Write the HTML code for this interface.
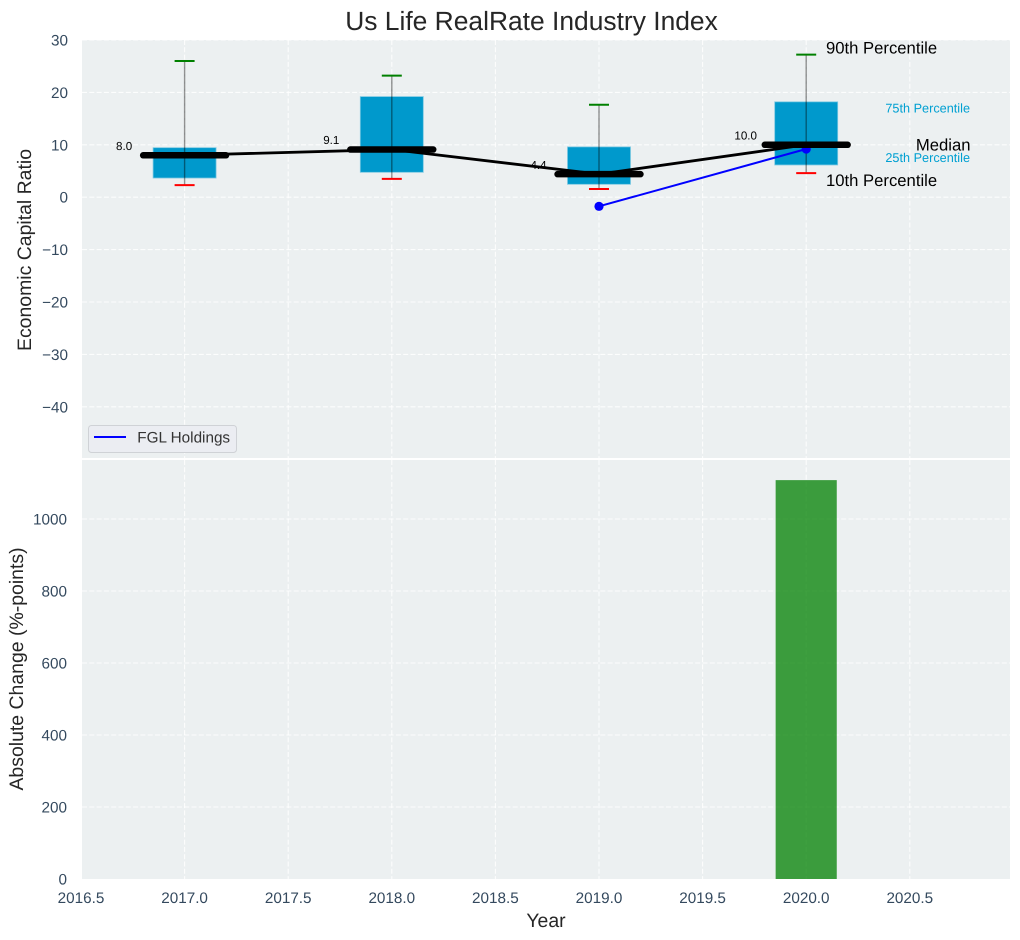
<!DOCTYPE html>
<html lang="en">
<head>
<meta charset="utf-8">
<title>Us Life RealRate Industry Index</title>
<style>
html,body{margin:0;padding:0;background:#fff;width:1020px;height:940px;overflow:hidden}
svg{display:block;font-family:"Liberation Sans",Arial,sans-serif;text-rendering:geometricPrecision}
</style>
</head>
<body>
<svg id="chart" xmlns="http://www.w3.org/2000/svg" width="1020" height="940" viewBox="0 0 1020 940"></svg>
<script>
const years = [2017, 2018, 2019, 2020];
const p90 = [26.0, 23.2, 17.65, 27.2];
const p75 = [9.45, 19.2, 9.6, 18.2];
const medians = [8.0, 9.1, 4.4, 10.0];
const p25 = [3.66, 4.75, 2.46, 6.15];
const p10 = [2.3, 3.5, 1.56, 4.6];
const medianLabels = ["8.0", "9.1", "4.4", "10.0"];
const companyName = "FGL Holdings";
const companyYears = [2019, 2020];
const companyValues = [-1.74, 9.2];
const changeYears = [2020];
const changeValues = [1108];
const xTicks = [2016.5, 2017.0, 2017.5, 2018.0, 2018.5, 2019.0, 2019.5, 2020.0, 2020.5];
const xTickLabels = ["2016.5", "2017.0", "2017.5", "2018.0", "2018.5", "2019.0", "2019.5", "2020.0", "2020.5"];
const topTicks = [30, 20, 10, 0, -10, -20, -30, -40];
const topTickLabels = ["30", "20", "10", "0", "\u221210", "\u221220", "\u221230", "\u221240"];
const bottomTicks = [0, 200, 400, 600, 800, 1000];
const bottomTickLabels = ["0", "200", "400", "600", "800", "1000"];

const svg = document.getElementById('chart');
const NS = 'http://www.w3.org/2000/svg';
const L = 82, R = 1010, T1 = 40, B1 = 458, T2 = 460, B2 = 879;
const BG = '#ecf0f1', TICK = '#34495e', DARK = '#262626', BLUEBOX = '#0099cc';

function x(v) { return 184.6 + 207.2 * (v - 2017); }
function yTop(v) { return 197.2 - 5.24 * v; }
function yBottom(v) { return 879 - 0.36 * v; }

function shape(tag, attrs) {
  const el = document.createElementNS(NS, tag);
  for (const k in attrs) el.setAttribute(k, attrs[k]);
  svg.appendChild(el);
  return el;
}
function label(str, px, py, size, fill, anchor) {
  const el = shape('text', {x: px, y: py, 'font-size': size, fill: fill, 'text-anchor': anchor || 'start', 'dominant-baseline': 'central'});
  el.textContent = str;
  return el;
}
let el;

el = shape('rect', {x: L, y: T1, width: R - L, height: B1 - T1, fill: BG});


el = shape('rect', {x: L, y: T2, width: R - L, height: B2 - T2, fill: BG});



const gridStyle = {stroke: '#ffffff', 'stroke-width': 1.1, 'stroke-dasharray': '5 2.3', 'stroke-opacity': 0.85};
xTicks.forEach(function (t, i) {
  if (x(t) > L) {
    el = shape('line', Object.assign({x1: x(t), x2: x(t), y1: T1, y2: B1}, gridStyle));
    
    
    el = shape('line', Object.assign({x1: x(t), x2: x(t), y1: T2, y2: B2}, gridStyle));
    
    
  }
  el = label(xTickLabels[i], x(t), 898.5, 15.28, TICK, 'middle');
  
  
});
topTicks.forEach(function (t, i) {
  el = shape('line', Object.assign({x1: L, x2: R, y1: yTop(t), y2: yTop(t)}, gridStyle));
  
  
  el = label(topTickLabels[i], 68, yTop(t) + 1, 15.28, TICK, 'end');
  
  
});
bottomTicks.forEach(function (t, i) {
  if (t > 0) {
    el = shape('line', Object.assign({x1: L, x2: R, y1: yBottom(t), y2: yBottom(t)}, gridStyle));
    
    
  }
  el = label(bottomTickLabels[i], 67, yBottom(t) + 1, 15.28, TICK, 'end');
  
  
});

years.forEach(function (yr, i) {
  const boxW = 63;
  el = shape('rect', {x: x(yr) - boxW / 2, y: yTop(p75[i]), width: boxW, height: yTop(p25[i]) - yTop(p75[i]), fill: BLUEBOX, stroke: '#7cc8e2', 'stroke-width': 0.8});
  
  
  el = shape('line', {x1: x(yr), x2: x(yr), y1: yTop(p90[i]), y2: yTop(p10[i]), stroke: '#000000', 'stroke-width': 1.4, 'stroke-opacity': 0.42});
  
  
  el = shape('line', {x1: x(yr) - 10, x2: x(yr) + 10, y1: yTop(p90[i]), y2: yTop(p90[i]), stroke: '#008000', 'stroke-width': 2});
  
  
  el = shape('line', {x1: x(yr) - 10, x2: x(yr) + 10, y1: yTop(p10[i]), y2: yTop(p10[i]), stroke: '#ff0000', 'stroke-width': 2});
  
  
});

el = shape('polyline', {points: companyYears.map(function (yr, i) { return x(yr) + ',' + yTop(companyValues[i]); }).join(' '), fill: 'none', stroke: '#0000ff', 'stroke-width': 2});


companyYears.forEach(function (yr, i) {
  el = shape('circle', {cx: x(yr), cy: yTop(companyValues[i]), r: 4.6, fill: '#0000ff'});
  
  
});

el = shape('polyline', {points: years.map(function (yr, i) { return x(yr) + ',' + yTop(medians[i]); }).join(' '), fill: 'none', stroke: '#000000', 'stroke-width': 2.8});


years.forEach(function (yr, i) {
  el = shape('line', {x1: x(yr - 0.2), x2: x(yr + 0.2), y1: yTop(medians[i]), y2: yTop(medians[i]), stroke: '#000000', 'stroke-width': 6.5, 'stroke-linecap': 'round'});
  
  
  el = label(medianLabels[i], x(yr) - 60.5, yTop(medians[i]) - 8.8, 11.6, '#000000', 'middle');
  
  
});

changeYears.forEach(function (yr, i) {
  el = shape('rect', {x: x(yr - 0.1475), y: yBottom(changeValues[i]), width: x(yr + 0.1475) - x(yr - 0.1475), height: yBottom(0) - yBottom(changeValues[i]), fill: '#008000', 'fill-opacity': 0.75});
  
  
});

const last = years.length - 1;
el = label('90th Percentile', 826, yTop(p90[last]) - 6.5, 16.67, '#000000');


el = label('10th Percentile', 826, yTop(p10[last]) + 7.5, 16.67, '#000000');


el = label('75th Percentile', 970, yTop(p75[last]) + 6.5, 12.7, '#00a0d2', 'end');


el = label('25th Percentile', 970, yTop(p25[last]) - 7, 12.7, '#00a0d2', 'end');


el = label('Median', 970.5, yTop(medians[last]), 16.67, '#000000', 'end');



el = shape('rect', {x: 88.5, y: 425.5, width: 148, height: 27, rx: 3, fill: '#ebedf2', stroke: '#cfd2d6', 'stroke-width': 1});


el = shape('line', {x1: 94, x2: 126, y1: 437, y2: 437, stroke: '#0000ff', 'stroke-width': 2});


el = label(companyName, 137.3, 438, 15.28, '#333333');



el = label('Us Life RealRate Industry Index', 531.5, 21, 26.4, DARK, 'middle');


el = label('Year', 546, 921, 19.44, DARK, 'middle');


el = label('Economic Capital Ratio', 0, 0, 19.44, DARK, 'middle');
el.setAttribute('transform', 'translate(25 250) rotate(-90)');


el = label('Absolute Change (%-points)', 0, 0, 19.44, DARK, 'middle');
el.setAttribute('transform', 'translate(17 669) rotate(-90)');


</script>
</body>
</html>
